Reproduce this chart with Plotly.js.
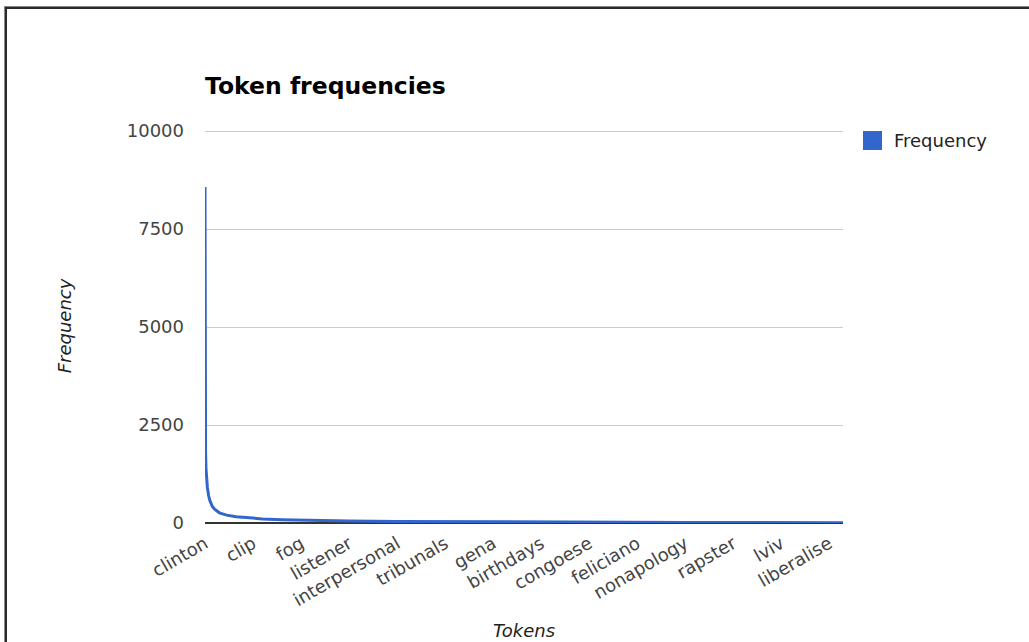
<!DOCTYPE html>
<html>
<head>
<meta charset="utf-8">
<script src="https://cdn.plot.ly/plotly-3.0.1.min.js"></script>
<style>
  html, body { margin: 0; padding: 0; background: #fff; }
  #chart { position: absolute; left: 0; top: 0; width: 1029px; height: 642px; }
  #frame { position: absolute; left: 5px; top: 7px; width: 1030px; height: 640px;
           border-top: 2px solid #2a2a2a; border-left: 2px solid #2a2a2a;
           box-shadow: -1px -1px 0 #888; pointer-events: none; }
</style>
</head>
<body>
<div id="chart"></div>
<div id="frame"></div>
<script>
// Token labels shown on the category axis, and their rank positions
const tickTokens = ["clinton", "clip", "fog", "listener", "interpersonal", "tribunals", "gena",
                    "birthdays", "congoese", "feliciano", "nonapology", "rapster", "lviv", "liberalise"];
const tickRanks = [0, 1000, 2000, 3000, 4000, 5000, 6000, 7000, 8000, 9000, 10000, 11000, 12000, 13000];

// Token rank (0 = most frequent) and frequency
const ranks = [0, 1, 2, 4, 7, 12, 20, 35, 50, 75, 100, 150, 200, 300, 450, 650, 900, 1200,
               1600, 2200, 3000, 4000, 5000, 6000, 7000, 8000, 9000, 10000, 11000, 12000, 13000, 13290];
const freqs = [8570, 5100, 4000, 3000, 2300, 1800, 1400, 1100, 900, 700, 580, 430, 350, 260,
               200, 160, 130, 105, 85, 68, 52, 40, 33, 28, 24, 20, 17, 15, 13, 11, 10, 9];

const yTicks = [0, 2500, 5000, 7500, 10000];
const seriesName = "Frequency";
const lineColor = "#3366cc";
const font = "DejaVu Sans, Arial, sans-serif";

const trace = {
  x: ranks, y: freqs, type: "scatter", mode: "lines", name: seriesName,
  line: { color: lineColor, width: 3 }, showlegend: false, hoverinfo: "x+y"
};

const layout = {
  width: 1029, height: 642,
  margin: { l: 205, r: 186, t: 129, b: 119, pad: 0 },
  paper_bgcolor: "#fff", plot_bgcolor: "#fff",
  font: { family: font, size: 18, color: "#444" },
  title: {
    text: "<b>Token frequencies</b>",
    font: { family: "DejaVu Sans, Arial, sans-serif", size: 23.5, color: "#000" },
    xref: "paper", x: 0, xanchor: "left",
    yref: "container", y: 1 - 86 / 642, yanchor: "middle"
  },
  xaxis: {
    range: [0, 13290], tickmode: "array", tickvals: tickRanks, ticktext: tickTokens,
    tickangle: -30, showgrid: false, zeroline: false, showline: false, ticks: "",
    ticklabelstandoff: 6,
    tickfont: { family: font, size: 18, color: "#444" },
    title: { text: "<i>Tokens</i>", font: { family: font, size: 18, color: "#222" }, standoff: 15 },
    automargin: false, fixedrange: true
  },
  yaxis: {
    range: [0, 10051], tickmode: "array", tickvals: yTicks, ticktext: yTicks.map(String),
    showgrid: true, gridcolor: "#cccccc", gridwidth: 1,
    zeroline: true, zerolinecolor: "#333333", zerolinewidth: 1.5,
    showline: false, ticks: "", ticklabelstandoff: 20,
    tickfont: { family: font, size: 18, color: "#444" },
    title: { text: "<i>Frequency</i>", font: { family: font, size: 18, color: "#222" }, standoff: 50 },
    automargin: false, fixedrange: true
  },
  shapes: [
    { type: "rect", xref: "paper", yref: "paper",
      x0: (863 - 205) / 638, x1: (882 - 205) / 638,
      y0: (523 - 150) / 394, y1: (523 - 131) / 394,
      fillcolor: lineColor, line: { width: 0 } }
  ],
  annotations: [
    { text: seriesName, xref: "paper", yref: "paper",
      x: (892 - 205) / 638, xanchor: "left", y: (523 - 140) / 394, yanchor: "middle",
      showarrow: false, font: { family: font, size: 18, color: "#222" } }
  ]
};

Plotly.newPlot("chart", [trace], layout, { displayModeBar: false, staticPlot: true });
</script>
</body>
</html>
